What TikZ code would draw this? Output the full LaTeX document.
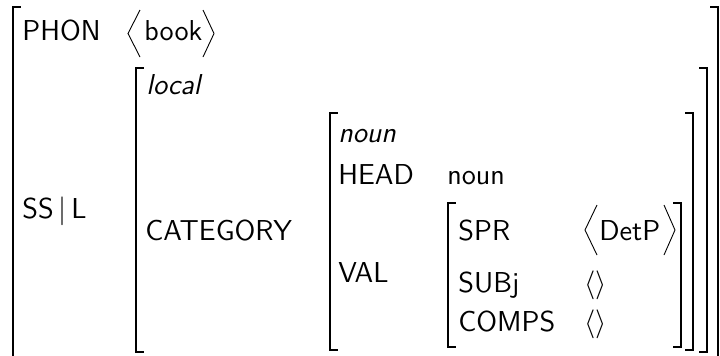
\documentclass[tikz,border=0pt]{standalone}
\renewcommand{\familydefault}{\sfdefault}

\begin{document}
\begin{tikzpicture}[x=0.5pt, y=-0.5pt,
	lbl/.style={anchor=base west, inner sep=0pt, font=\fontsize{14.4}{17}\selectfont},
	brk/.style={line width=0.9pt, line cap=rect},
	ang/.style={line width=0.45pt}]
	\clip (0, 0) rectangle (720, 355);

	% brackets: left / right / top / bottom
	\foreach \l/\r/\t/\b in {13/718/7/380, 136/707/68/352, 330/693/113/350, 448/681/203/347}{
		\draw[brk] (\l+7, \t) -- (\l, \t) -- (\l, \b) -- (\l+7, \b);
		\draw[brk] (\r-7, \t) -- (\r, \t) -- (\r, \b) -- (\r-7, \b);
	}

	\node[lbl] at (22, 40) (phon) {PHON};
	\node[lbl] at (144, 40) (book) {book};
	\draw[ang] (140, 10) -- (128, 33.5) -- (140, 57);
	\draw[ang] (203, 10) -- (214, 33.5) -- (203, 57);

	\node[lbl] at (146, 94) (local) {\itshape local};
	\node[lbl] at (22, 218) (ssl) {SS\,$|$\,L};
	\node[lbl] at (145, 240) (cat) {CATEGORY};

	\node[lbl] at (338, 142) (nountype) {\itshape noun};
	\node[lbl] at (338, 184) (head) {HEAD};
	\node[lbl] at (447, 184) (noun) {noun};
	\node[lbl] at (338, 282) (val) {VAL};

	\node[lbl] at (458, 240) (spr) {SPR};
	\node[lbl] at (599, 240) (detp) {DetP};
	\draw[ang] (597, 205) -- (585, 230) -- (597, 255);
	\draw[ang] (664, 205) -- (675, 230) -- (664, 255);

	\node[lbl] at (458, 292) (subj) {SUBj};
	\node[lbl] at (584, 292) (subjval) {$\langle\rangle$};
	\node[lbl] at (458, 331) (comps) {COMPS};
	\node[lbl] at (584, 331) (compsval) {$\langle\rangle$};

\end{tikzpicture}
\end{document}
